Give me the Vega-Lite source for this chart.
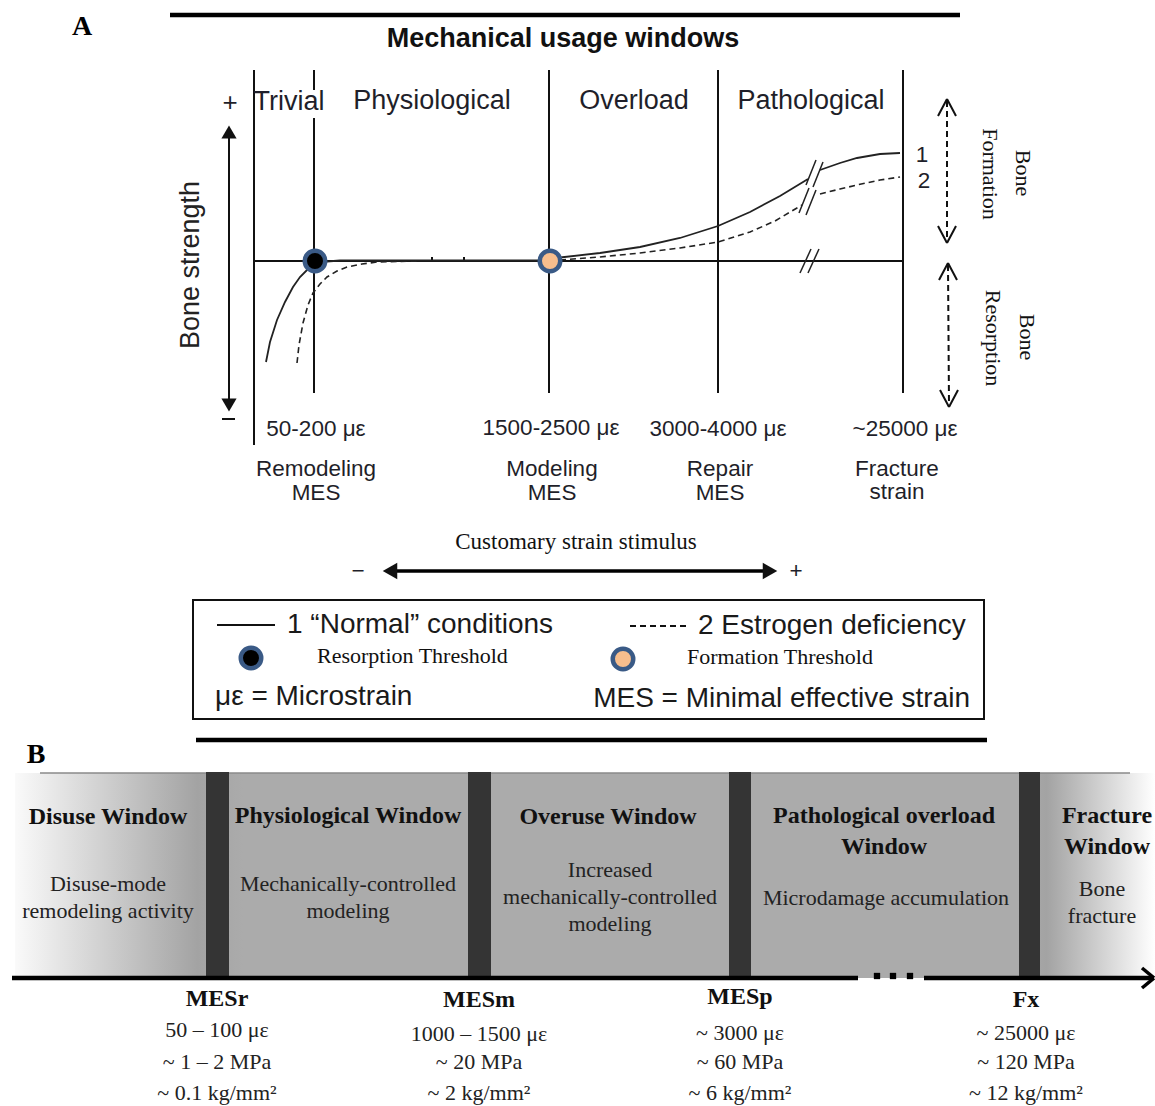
{
  "$schema": "https://vega.github.io/schema/vega-lite/v6.json",
  "width": 1155,
  "height": 1106,
  "autosize": {"type": "none"},
  "padding": 0,
  "background": "white",
  "config": {"view": {"stroke": null}},
  "encoding": {
    "x": {"field": "x", "type": "quantitative", "scale": {"domain": [0, 1155], "nice": false, "zero": false}, "axis": null},
    "y": {"field": "y", "type": "quantitative", "scale": {"domain": [0, 1106], "nice": false, "zero": false, "reverse": true}, "axis": null}
  },
  "layer": [
    {
      "data": {"values": [{"x": 15, "x2": 1155, "y": 773, "y2": 978}]},
      "mark": {"type": "rect", "fill": {"gradient": "linear", "x1": 0, "x2": 1, "y1": 0, "y2": 0, "stops": [{"offset": 0, "color": "#fafafa"}, {"offset": 0.16, "color": "#a3a3a3"}, {"offset": 0.2, "color": "#ababab"}, {"offset": 0.88, "color": "#ababab"}, {"offset": 0.905, "color": "#a3a3a3"}, {"offset": 1, "color": "#ffffff"}]}},
      "encoding": {"x2": {"field": "x2"}, "y2": {"field": "y2"}}
    },
    {
      "data": {"values": [{"x": 40, "x2": 1130, "y": 773, "y2": 773}]},
      "mark": {"type": "rule", "stroke": "#8a8a8a", "strokeWidth": 1.5},
      "encoding": {"x2": {"field": "x2"}, "y2": {"field": "y2"}}
    },
    {
      "data": {"values": [
        {"x": 206, "x2": 229, "y": 772, "y2": 978},
        {"x": 468, "x2": 491, "y": 772, "y2": 978},
        {"x": 729, "x2": 751, "y": 772, "y2": 978},
        {"x": 1019, "x2": 1040, "y": 772, "y2": 978}
      ]},
      "mark": {"type": "rect", "fill": "#343434"},
      "encoding": {"x2": {"field": "x2"}, "y2": {"field": "y2"}}
    },
    {
      "data": {"values": [
        {"x": 193, "x2": 984, "y": 600, "y2": 719}
      ]},
      "mark": {"type": "rect", "fill": "white", "stroke": "#111", "strokeWidth": 2},
      "encoding": {"x2": {"field": "x2"}, "y2": {"field": "y2"}}
    },
    {
      "data": {"values": [
        {"x": 170, "x2": 960, "y": 15, "y2": 15},
        {"x": 196, "x2": 987, "y": 740, "y2": 740},
        {"x": 12, "x2": 858, "y": 978, "y2": 978},
        {"x": 924, "x2": 1152, "y": 978, "y2": 978}
      ]},
      "mark": {"type": "rule", "stroke": "#000", "strokeWidth": 4.5},
      "encoding": {"x2": {"field": "x2"}, "y2": {"field": "y2"}}
    },
    {
      "data": {"values": [
        {"x": 1142, "x2": 1154, "y": 968, "y2": 978},
        {"x": 1142, "x2": 1154, "y": 988, "y2": 978},
        {"x": 395, "x2": 765, "y": 571, "y2": 571}
      ]},
      "mark": {"type": "rule", "stroke": "#000", "strokeWidth": 3.5},
      "encoding": {"x2": {"field": "x2"}, "y2": {"field": "y2"}}
    },
    {
      "data": {"values": [
        {"x": 254, "x2": 254, "y": 70, "y2": 445},
        {"x": 314, "x2": 314, "y": 70, "y2": 90},
        {"x": 314, "x2": 314, "y": 118, "y2": 393},
        {"x": 549, "x2": 549, "y": 70, "y2": 393},
        {"x": 718, "x2": 718, "y": 70, "y2": 393},
        {"x": 903, "x2": 903, "y": 70, "y2": 393},
        {"x": 254, "x2": 903, "y": 261, "y2": 261},
        {"x": 229, "x2": 229, "y": 138, "y2": 400},
        {"x": 222, "x2": 235, "y": 419, "y2": 419},
        {"x": 432, "x2": 432, "y": 257, "y2": 262},
        {"x": 464, "x2": 464, "y": 257, "y2": 262},
        {"x": 217, "x2": 275, "y": 625, "y2": 625},
        {"x": 947, "x2": 938, "y": 99, "y2": 116},
        {"x": 947, "x2": 956, "y": 99, "y2": 116},
        {"x": 947, "x2": 938, "y": 243, "y2": 226},
        {"x": 947, "x2": 956, "y": 243, "y2": 226},
        {"x": 948, "x2": 939, "y": 263, "y2": 280},
        {"x": 948, "x2": 957, "y": 263, "y2": 280},
        {"x": 949, "x2": 940, "y": 407, "y2": 390},
        {"x": 949, "x2": 958, "y": 407, "y2": 390}
      ]},
      "mark": {"type": "rule", "stroke": "#111", "strokeWidth": 2},
      "encoding": {"x2": {"field": "x2"}, "y2": {"field": "y2"}}
    },
    {
      "data": {"values": [
        {"x": 800, "x2": 811, "y": 273, "y2": 249},
        {"x": 808, "x2": 819, "y": 273, "y2": 249},
        {"x": 806, "x2": 816, "y": 185, "y2": 160},
        {"x": 813, "x2": 823, "y": 187, "y2": 162},
        {"x": 799, "x2": 809, "y": 213, "y2": 188},
        {"x": 806, "x2": 816, "y": 215, "y2": 190}
      ]},
      "mark": {"type": "rule", "stroke": "#222", "strokeWidth": 1.5},
      "encoding": {"x2": {"field": "x2"}, "y2": {"field": "y2"}}
    },
    {
      "data": {"values": [
        {"x": 630, "x2": 690, "y": 626, "y2": 626},
        {"x": 947, "x2": 947, "y": 101, "y2": 241},
        {"x": 948, "x2": 949, "y": 265, "y2": 405}
      ]},
      "mark": {"type": "rule", "stroke": "#111", "strokeWidth": 2, "strokeDash": [6, 4]},
      "encoding": {"x2": {"field": "x2"}, "y2": {"field": "y2"}}
    },
    {
      "data": {"values": [
        {"seg": "a", "i": 1, "x": 266, "y": 362},
        {"seg": "a", "i": 2, "x": 270, "y": 342},
        {"seg": "a", "i": 3, "x": 277, "y": 320},
        {"seg": "a", "i": 4, "x": 285, "y": 302},
        {"seg": "a", "i": 5, "x": 293, "y": 287},
        {"seg": "a", "i": 6, "x": 300, "y": 277},
        {"seg": "a", "i": 7, "x": 307, "y": 270},
        {"seg": "a", "i": 8, "x": 315, "y": 264},
        {"seg": "a", "i": 9, "x": 327, "y": 261.5},
        {"seg": "a", "i": 10, "x": 340, "y": 260.5},
        {"seg": "a", "i": 11, "x": 549, "y": 260.5},
        {"seg": "a", "i": 12, "x": 560, "y": 257.5},
        {"seg": "a", "i": 13, "x": 600, "y": 253},
        {"seg": "a", "i": 14, "x": 640, "y": 247},
        {"seg": "a", "i": 15, "x": 680, "y": 238},
        {"seg": "a", "i": 16, "x": 718, "y": 226},
        {"seg": "a", "i": 17, "x": 750, "y": 212},
        {"seg": "a", "i": 18, "x": 780, "y": 196},
        {"seg": "a", "i": 19, "x": 808, "y": 179},
        {"seg": "b", "i": 20, "x": 820, "y": 170},
        {"seg": "b", "i": 21, "x": 840, "y": 163},
        {"seg": "b", "i": 22, "x": 857, "y": 158},
        {"seg": "b", "i": 23, "x": 880, "y": 154},
        {"seg": "b", "i": 24, "x": 900, "y": 153}
      ]},
      "mark": {"type": "line", "stroke": "#222", "strokeWidth": 1.8},
      "encoding": {"detail": {"field": "seg"}, "order": {"field": "i", "type": "quantitative"}}
    },
    {
      "data": {"values": [
        {"seg": "a", "i": 1, "x": 297, "y": 363},
        {"seg": "a", "i": 2, "x": 299, "y": 345},
        {"seg": "a", "i": 3, "x": 303, "y": 323},
        {"seg": "a", "i": 4, "x": 308, "y": 305},
        {"seg": "a", "i": 5, "x": 313, "y": 293},
        {"seg": "a", "i": 6, "x": 320, "y": 284},
        {"seg": "a", "i": 7, "x": 327, "y": 277},
        {"seg": "a", "i": 8, "x": 337, "y": 271},
        {"seg": "a", "i": 9, "x": 347, "y": 267},
        {"seg": "a", "i": 10, "x": 362, "y": 264},
        {"seg": "a", "i": 11, "x": 377, "y": 262},
        {"seg": "a", "i": 12, "x": 420, "y": 261},
        {"seg": "c", "i": 13, "x": 560, "y": 260},
        {"seg": "c", "i": 14, "x": 600, "y": 257},
        {"seg": "c", "i": 15, "x": 640, "y": 253},
        {"seg": "c", "i": 16, "x": 680, "y": 248},
        {"seg": "c", "i": 17, "x": 718, "y": 242},
        {"seg": "c", "i": 18, "x": 750, "y": 232},
        {"seg": "c", "i": 19, "x": 775, "y": 221},
        {"seg": "c", "i": 20, "x": 802, "y": 205},
        {"seg": "b", "i": 21, "x": 820, "y": 194},
        {"seg": "b", "i": 22, "x": 840, "y": 189},
        {"seg": "b", "i": 23, "x": 857, "y": 185},
        {"seg": "b", "i": 24, "x": 880, "y": 180},
        {"seg": "b", "i": 25, "x": 900, "y": 177}
      ]},
      "mark": {"type": "line", "stroke": "#222", "strokeWidth": 1.6, "strokeDash": [6, 4]},
      "encoding": {"detail": {"field": "seg"}, "order": {"field": "i", "type": "quantitative"}}
    },
    {
      "data": {"values": [
        {"x": 229, "y": 132, "s": "triangle-up"},
        {"x": 229, "y": 405, "s": "triangle-down"}
      ]},
      "mark": {"type": "point", "filled": true, "color": "#111", "size": 230, "opacity": 1},
      "encoding": {"shape": {"field": "s", "type": "nominal", "scale": null}}
    },
    {
      "data": {"values": [
        {"x": 390, "y": 571, "s": "triangle-left"},
        {"x": 770, "y": 571, "s": "triangle-right"}
      ]},
      "mark": {"type": "point", "filled": true, "color": "#111", "size": 280, "opacity": 1},
      "encoding": {"shape": {"field": "s", "type": "nominal", "scale": null}}
    },
    {
      "data": {"values": [
        {"x": 877, "y": 976},
        {"x": 893, "y": 976},
        {"x": 910, "y": 976}
      ]},
      "mark": {"type": "square", "filled": true, "color": "#000", "size": 40, "opacity": 1}
    },
    {
      "data": {"values": [
        {"x": 315, "y": 261, "k": "Resorption"},
        {"x": 251, "y": 658, "k": "Resorption"},
        {"x": 550, "y": 261, "k": "Formation"},
        {"x": 623, "y": 659, "k": "Formation"}
      ]},
      "mark": {"type": "point", "shape": "circle", "filled": true, "size": 420, "stroke": "#3a5a86", "strokeWidth": 4.5, "opacity": 1, "strokeOpacity": 1},
      "encoding": {"fill": {"field": "k", "type": "nominal", "scale": {"domain": ["Resorption", "Formation"], "range": ["#000000", "#f8be8d"]}, "legend": null}}
    },
    {
      "data": {"values": [
        {"x": 82, "y": 27, "t": "A"},
        {"x": 36, "y": 755, "t": "B"}
      ]},
      "mark": {"type": "text", "font": "Liberation Serif", "fontWeight": "bold", "fontSize": 28, "align": "center", "baseline": "middle", "color": "#000"},
      "encoding": {"text": {"field": "t"}}
    },
    {
      "data": {"values": [
        {"x": 563, "y": 39, "t": "Mechanical usage windows"}
      ]},
      "mark": {"type": "text", "font": "Liberation Sans", "fontWeight": "bold", "fontSize": 27, "align": "center", "baseline": "middle", "color": "#111"},
      "encoding": {"text": {"field": "t"}}
    },
    {
      "data": {"values": [
        {"x": 289, "y": 102, "t": "Trivial"},
        {"x": 432, "y": 101, "t": "Physiological"},
        {"x": 634, "y": 101, "t": "Overload"},
        {"x": 811, "y": 101, "t": "Pathological"}
      ]},
      "mark": {"type": "text", "font": "Liberation Sans", "fontSize": 27, "align": "center", "baseline": "middle", "color": "#1f1f2a"},
      "encoding": {"text": {"field": "t"}}
    },
    {
      "data": {"values": [
        {"x": 191, "y": 265, "t": "Bone strength"}
      ]},
      "mark": {"type": "text", "font": "Liberation Sans", "fontSize": 27, "angle": 270, "align": "center", "baseline": "middle", "color": "#222"},
      "encoding": {"text": {"field": "t"}}
    },
    {
      "data": {"values": [
        {"x": 230, "y": 103, "t": "+"}
      ]},
      "mark": {"type": "text", "font": "Liberation Sans", "fontSize": 26, "align": "center", "baseline": "middle", "color": "#1f1f2a"},
      "encoding": {"text": {"field": "t"}}
    },
    {
      "data": {"values": [
        {"x": 922, "y": 155, "t": "1"},
        {"x": 924, "y": 181, "t": "2"},
        {"x": 316, "y": 429, "t": "50-200 με"},
        {"x": 551, "y": 428, "t": "1500-2500 με"},
        {"x": 718, "y": 429, "t": "3000-4000 με"},
        {"x": 905, "y": 429, "t": "~25000 με"},
        {"x": 316, "y": 469, "t": "Remodeling"},
        {"x": 316, "y": 493, "t": "MES"},
        {"x": 552, "y": 469, "t": "Modeling"},
        {"x": 552, "y": 493, "t": "MES"},
        {"x": 720, "y": 469, "t": "Repair"},
        {"x": 720, "y": 493, "t": "MES"},
        {"x": 897, "y": 469, "t": "Fracture"},
        {"x": 897, "y": 492, "t": "strain"},
        {"x": 358, "y": 571, "t": "−"},
        {"x": 796, "y": 571, "t": "+"}
      ]},
      "mark": {"type": "text", "font": "Liberation Sans", "fontSize": 22.5, "align": "center", "baseline": "middle", "color": "#1f1f2a"},
      "encoding": {"text": {"field": "t"}}
    },
    {
      "data": {"values": [
        {"x": 576, "y": 542, "t": "Customary strain stimulus"}
      ]},
      "mark": {"type": "text", "font": "Liberation Serif", "fontSize": 23, "align": "center", "baseline": "middle", "color": "#111"},
      "encoding": {"text": {"field": "t"}}
    },
    {
      "data": {"values": [
        {"x": 1023, "y": 173, "t": "Bone"},
        {"x": 990, "y": 174, "t": "Formation"},
        {"x": 1027, "y": 337, "t": "Bone"},
        {"x": 993, "y": 338, "t": "Resorption"}
      ]},
      "mark": {"type": "text", "font": "Liberation Serif", "fontSize": 22, "angle": 90, "align": "center", "baseline": "middle", "color": "#111"},
      "encoding": {"text": {"field": "t"}}
    },
    {
      "data": {"values": [
        {"x": 287, "y": 625, "t": "1 “Normal” conditions"},
        {"x": 698, "y": 626, "t": "2 Estrogen deficiency"},
        {"x": 215, "y": 697, "t": "με = Microstrain"}
      ]},
      "mark": {"type": "text", "font": "Liberation Sans", "fontSize": 28, "align": "left", "baseline": "middle", "color": "#1a1a1a"},
      "encoding": {"text": {"field": "t"}}
    },
    {
      "data": {"values": [
        {"x": 970, "y": 699, "t": "MES = Minimal effective strain"}
      ]},
      "mark": {"type": "text", "font": "Liberation Sans", "fontSize": 28, "align": "right", "baseline": "middle", "color": "#1a1a1a"},
      "encoding": {"text": {"field": "t"}}
    },
    {
      "data": {"values": [
        {"x": 317, "y": 656, "t": "Resorption Threshold"},
        {"x": 687, "y": 657, "t": "Formation Threshold"}
      ]},
      "mark": {"type": "text", "font": "Liberation Serif", "fontSize": 22, "align": "left", "baseline": "middle", "color": "#111"},
      "encoding": {"text": {"field": "t"}}
    },
    {
      "data": {"values": [
        {"x": 108, "y": 817, "t": "Disuse Window"},
        {"x": 348, "y": 816, "t": "Physiological Window"},
        {"x": 608, "y": 817, "t": "Overuse Window"},
        {"x": 884, "y": 816, "t": "Pathological overload"},
        {"x": 884, "y": 847, "t": "Window"},
        {"x": 1107, "y": 816, "t": "Fracture"},
        {"x": 1107, "y": 847, "t": "Window"},
        {"x": 217, "y": 999, "t": "MESr"},
        {"x": 479, "y": 1000, "t": "MESm"},
        {"x": 740, "y": 997, "t": "MESp"},
        {"x": 1026, "y": 1000, "t": "Fx"}
      ]},
      "mark": {"type": "text", "font": "Liberation Serif", "fontWeight": "bold", "fontSize": 24, "align": "center", "baseline": "middle", "color": "#111"},
      "encoding": {"text": {"field": "t"}}
    },
    {
      "data": {"values": [
        {"x": 108, "y": 884, "t": "Disuse-mode"},
        {"x": 108, "y": 911, "t": "remodeling activity"},
        {"x": 348, "y": 884, "t": "Mechanically-controlled"},
        {"x": 348, "y": 911, "t": "modeling"},
        {"x": 610, "y": 870, "t": "Increased"},
        {"x": 610, "y": 897, "t": "mechanically-controlled"},
        {"x": 610, "y": 924, "t": "modeling"},
        {"x": 886, "y": 898, "t": "Microdamage accumulation"},
        {"x": 1102, "y": 889, "t": "Bone"},
        {"x": 1102, "y": 916, "t": "fracture"},
        {"x": 217, "y": 1030, "t": "50 – 100 με"},
        {"x": 217, "y": 1062, "t": "~ 1 – 2 MPa"},
        {"x": 217, "y": 1093, "t": "~ 0.1 kg/mm²"},
        {"x": 479, "y": 1034, "t": "1000 – 1500 με"},
        {"x": 479, "y": 1062, "t": "~ 20 MPa"},
        {"x": 479, "y": 1093, "t": "~ 2 kg/mm²"},
        {"x": 740, "y": 1033, "t": "~ 3000 με"},
        {"x": 740, "y": 1062, "t": "~ 60 MPa"},
        {"x": 740, "y": 1093, "t": "~ 6 kg/mm²"},
        {"x": 1026, "y": 1033, "t": "~ 25000 με"},
        {"x": 1026, "y": 1062, "t": "~ 120 MPa"},
        {"x": 1026, "y": 1093, "t": "~ 12 kg/mm²"}
      ]},
      "mark": {"type": "text", "font": "Liberation Serif", "fontSize": 22, "align": "center", "baseline": "middle", "color": "#222"},
      "encoding": {"text": {"field": "t"}}
    }
  ]
}
